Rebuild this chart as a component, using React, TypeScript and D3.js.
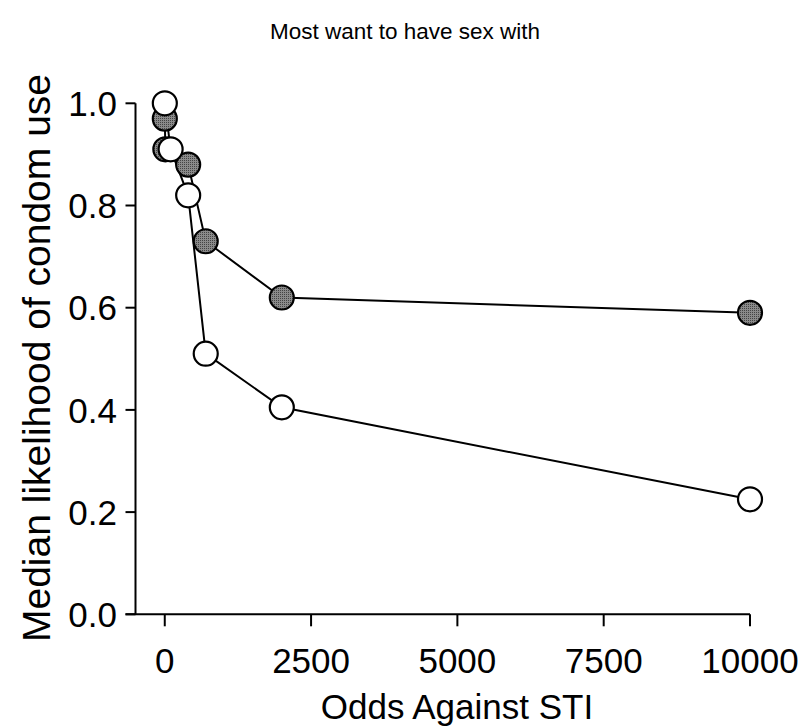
import React from "react";
import * as d3 from "d3";

// Odds against STI (x) and median likelihood of condom use (y) for two partner groups
const oddsGray = [1, 10, 400, 700, 2000, 10000];
const likelihoodGray = [0.97, 0.91, 0.88, 0.73, 0.62, 0.59];
const oddsWhite = [1, 100, 400, 700, 2000, 10000];
const likelihoodWhite = [1.0, 0.91, 0.82, 0.51, 0.405, 0.225];

const xTicks = [0, 2500, 5000, 7500, 10000];
const yTicks = [0, 0.2, 0.4, 0.6, 0.8, 1.0];

const title = "Most want to have sex with";
const xTitle = "Odds Against STI";
const yTitle = "Median likelihood of condom use";

const W = 802;
const H = 728;
const FONT = "'Liberation Sans', Arial, sans-serif";

export default function App() {
  const x = d3.scaleLinear().domain([-500, 10000]).range([135.5, 750]);
  const y = d3.scaleLinear().domain([0, 1]).range([614.3, 103.3]);

  const line = d3
    .line<[number, number]>()
    .x((d) => x(d[0]))
    .y((d) => y(d[1]));

  const gray: [number, number][] = oddsGray.map((o, i) => [o, likelihoodGray[i]]);
  const white: [number, number][] = oddsWhite.map((o, i) => [o, likelihoodWhite[i]]);

  const x0 = x.range()[0];
  const y0 = y(0);

  return (
    <svg
      width={W}
      height={H}
      style={{ position: "absolute", left: 0, top: 0, background: "#fff" }}
      fontFamily={FONT}
    >
      <defs>
        <pattern id="dots" width="2" height="2" patternUnits="userSpaceOnUse">
          <rect width="2" height="2" fill="#8a8a8a" />
          <rect width="1" height="1" fill="#444" />
        </pattern>
      </defs>
      <rect width={W} height={H} fill="#fff" />

      <text x={405} y={39} textAnchor="middle" fontSize={22.5} fill="#000">
        {title}
      </text>

      {/* y axis */}
      <line x1={x0} x2={x0} y1={y(1)} y2={y0} stroke="#000" strokeWidth={2} />
      {yTicks.map((t) => (
        <g key={t}>
          <line x1={x0 - 10} x2={x0} y1={y(t)} y2={y(t)} stroke="#000" strokeWidth={2} />
          <text
            x={117}
            y={y(t)}
            dy="0.36em"
            textAnchor="end"
            fontSize={35}
            fill="#000"
          >
            {d3.format(".1f")(t)}
          </text>
        </g>
      ))}

      {/* x axis */}
      <line x1={x0 - 10} x2={x(10000)} y1={y0} y2={y0} stroke="#000" strokeWidth={2} />
      {xTicks.map((t) => (
        <g key={t}>
          <line x1={x(t)} x2={x(t)} y1={y0} y2={y0 + 12} stroke="#000" strokeWidth={2} />
          <text x={x(t)} y={673} textAnchor="middle" fontSize={35} fill="#000">
            {t}
          </text>
        </g>
      ))}

      <text x={457} y={719} textAnchor="middle" fontSize={35} fill="#000">
        {xTitle}
      </text>
      <text
        transform={`translate(50, 358) rotate(-90)`}
        textAnchor="middle"
        fontSize={39}
        fill="#000"
      >
        {yTitle}
      </text>

      {/* series lines */}
      <path d={line(gray) ?? ""} fill="none" stroke="#000" strokeWidth={2} />
      <path d={line(white) ?? ""} fill="none" stroke="#000" strokeWidth={2} />

      {/* markers */}
      {gray.map((d, i) => (
        <circle
          key={`g${i}`}
          cx={x(d[0])}
          cy={y(d[1])}
          r={12}
          fill="url(#dots)"
          stroke="#000"
          strokeWidth={2.2}
        />
      ))}
      {white.map((d, i) => (
        <circle
          key={`w${i}`}
          cx={x(d[0])}
          cy={y(d[1])}
          r={12}
          fill="#fff"
          stroke="#000"
          strokeWidth={2.2}
        />
      ))}
    </svg>
  );
}
